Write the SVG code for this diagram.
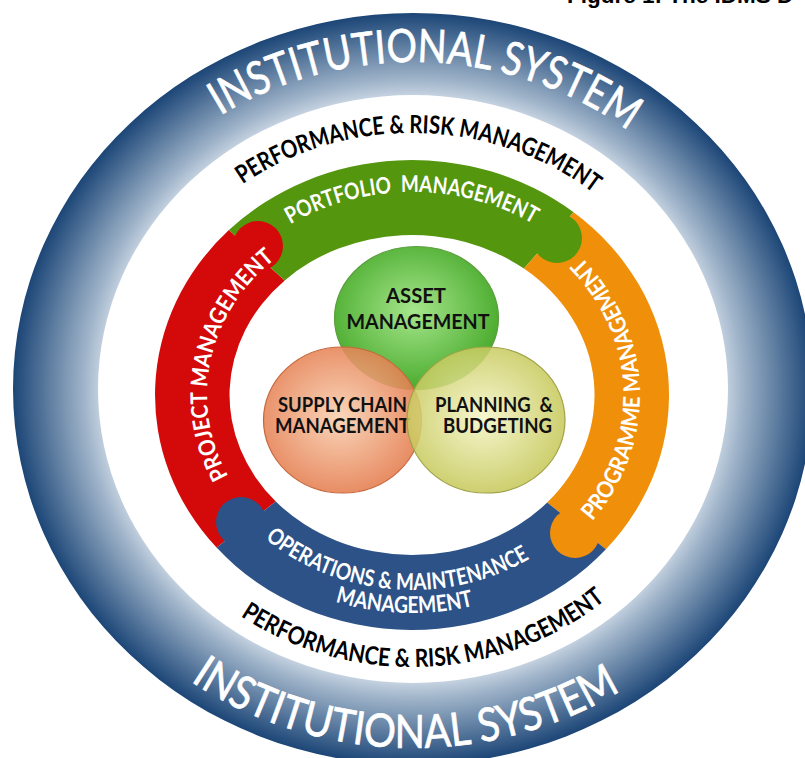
<svg xmlns="http://www.w3.org/2000/svg" width="805" height="758" viewBox="0 0 805 758">
<style>
.inst{font-family:Lato,"Liberation Sans",sans-serif;font-size:46px;fill:#ffffff;stroke:#ffffff;stroke-width:0.7px;text-anchor:middle}
.perf{font-family:Lato,"Liberation Sans",sans-serif;font-weight:bold;font-size:25px;fill:#000000;text-anchor:middle}
.band{font-family:Lato,"Liberation Sans",sans-serif;font-weight:bold;font-size:23px;fill:#ffffff;text-anchor:middle;white-space:pre}
.venn{font-family:Lato,"Liberation Sans",sans-serif;font-weight:bold;font-size:21px;fill:#111111;text-anchor:middle;white-space:pre}
.cap{font-family:"Liberation Sans",Arial,sans-serif;font-weight:bold;font-size:22.5px;fill:#000000}
</style>
<defs>
<radialGradient id="gRing" cx="50%" cy="50%" r="50%">
<stop offset="0.78" stop-color="#c6d3e1"/>
<stop offset="0.82" stop-color="#a2b6cb"/>
<stop offset="1" stop-color="#1c4677"/>
</radialGradient>
<radialGradient id="gAsset" cx="48%" cy="45%" r="58%">
<stop offset="0" stop-color="#a6e68c"/>
<stop offset="1" stop-color="#45a828"/>
</radialGradient>
<radialGradient id="gSupply" cx="48%" cy="48%" r="58%">
<stop offset="0" stop-color="#f9d0b0"/>
<stop offset="1" stop-color="#e27444"/>
</radialGradient>
<radialGradient id="gPlan" cx="48%" cy="48%" r="58%">
<stop offset="0" stop-color="#f4f5c6"/>
<stop offset="1" stop-color="#c0c24a"/>
</radialGradient>
<path id="pTopInst" d="M 62 389 A 351 327 0 0 1 764 389"/>
<path id="pBotInst" d="M 30 389 A 383 359 0 0 0 796 389"/>
<path id="pTopPerf" d="M 127 395 A 285 262 0 0 1 697 395"/>
<path id="pBotPerf" d="M 118 395 A 294 272 0 0 0 706 395"/>
<path id="pPort" d="M 187 395 A 225 203 0 0 1 637 395"/>
<path id="pProj" d="M 412 578 A 205 183 0 0 1 412 212"/>
<path id="pProg" d="M 412 601 A 228 206 0 0 0 412 189"/>
<path id="pOps1" d="M 195 395 A 217 195 0 0 0 629 395"/>
<path id="pOps2" d="M 172 395 A 240 218 0 0 0 652 395"/>
</defs>

<text class="cap" x="567" y="3">Figure 1: The IDMS D</text>

<g id="institutional-system">
<path d="M 13 389 A 400 376 0 1 1 813 389 A 400 376 0 1 1 13 389 Z M 98 389 A 315 294 0 1 0 728 389 A 315 294 0 1 0 98 389 Z" fill="url(#gRing)" fill-rule="evenodd"/>
<text class="inst"><textPath href="#pTopInst" startOffset="546" textLength="432" lengthAdjust="spacingAndGlyphs">INSTITUTIONAL SYSTEM</textPath></text>
<text class="inst"><textPath href="#pBotInst" startOffset="574" textLength="454" lengthAdjust="spacingAndGlyphs">INSTITUTIONAL SYSTEM</textPath></text>
</g>

<g id="performance-risk">
<text class="perf"><textPath href="#pTopPerf" startOffset="437" textLength="374" lengthAdjust="spacingAndGlyphs">PERFORMANCE &amp; RISK MANAGEMENT</textPath></text>
<text class="perf"><textPath href="#pBotPerf" startOffset="458" textLength="390" lengthAdjust="spacingAndGlyphs">PERFORMANCE &amp; RISK MANAGEMENT</textPath></text>
</g>

<g id="management-ring">
<path id="seg-project" d="M 216.6 547.6 A 257 235 0 0 1 228.9 230.1 L 284.7 280.4 A 182.5 160 0 0 0 275.8 501.5 Z" fill="#d40a0a"/>
<path id="seg-portfolio" d="M 228.9 230.1 A 257 235 0 0 1 573.6 212.3 L 523.9 268.6 A 182.5 160 0 0 0 284.7 280.4 Z" fill="#54960e"/>
<path id="seg-programme" d="M 573.6 212.3 A 257 235 0 0 1 605.9 549.3 L 547.2 502.5 A 182.5 160 0 0 0 523.9 268.6 Z" fill="#f0900a"/>
<path id="seg-operations" d="M 605.9 549.3 A 257 235 0 0 1 216.6 547.6 L 275.8 501.5 A 182.5 160 0 0 0 547.2 502.5 Z" fill="#2c5287"/>
<circle cx="258" cy="246" r="25" fill="#d40a0a"/>
<circle cx="557" cy="238" r="25" fill="#54960e"/>
<circle cx="575" cy="533" r="25" fill="#f0900a"/>
<circle cx="241" cy="522" r="25" fill="#2c5287"/>
</g>

<g id="portfolio-management">
<text class="band"><textPath href="#pPort" startOffset="336" textLength="254" lengthAdjust="spacingAndGlyphs">PORTFOLIO  MANAGEMENT</textPath></text>
</g>
<g id="project-management">
<text class="band"><textPath href="#pProj" startOffset="341" textLength="242" lengthAdjust="spacingAndGlyphs">PROJECT MANAGEMENT</textPath></text>
</g>
<g id="programme-management">
<text class="band"><textPath href="#pProg" startOffset="349" textLength="292" lengthAdjust="spacingAndGlyphs">PROGRAMME MANAGEMENT</textPath></text>
</g>
<g id="operations-maintenance">
<text class="band"><textPath href="#pOps1" startOffset="306" textLength="282" lengthAdjust="spacingAndGlyphs">OPERATIONS &amp; MAINTENANCE</textPath></text>
<text class="band"><textPath href="#pOps2" startOffset="352" textLength="140" lengthAdjust="spacingAndGlyphs">MANAGEMENT</textPath></text>
</g>

<g id="asset-management">
<ellipse cx="416.5" cy="318" rx="82" ry="71.5" fill="url(#gAsset)" stroke="#5b9e3e" stroke-width="1.2"/>
<text class="venn" x="416" y="303" textLength="60" lengthAdjust="spacingAndGlyphs">ASSET</text>
<text class="venn" x="418" y="329" textLength="143" lengthAdjust="spacingAndGlyphs">MANAGEMENT</text>
</g>
<g id="supply-chain-management">
<ellipse cx="342.5" cy="420" rx="79" ry="73" fill="url(#gSupply)" fill-opacity="0.88" stroke="#c8673c" stroke-width="1.2"/>
<text class="venn" x="342.5" y="412" textLength="129" lengthAdjust="spacingAndGlyphs">SUPPLY CHAIN</text>
<text class="venn" x="342.5" y="433" textLength="135" lengthAdjust="spacingAndGlyphs">MANAGEMENT</text>
</g>
<g id="planning-budgeting">
<ellipse cx="486" cy="420" rx="79" ry="73" fill="url(#gPlan)" fill-opacity="0.85" stroke="#9fa247" stroke-width="1.2"/>
<text class="venn" x="494" y="412" textLength="118" lengthAdjust="spacingAndGlyphs">PLANNING  &amp;</text>
<text class="venn" x="497.5" y="433" textLength="109" lengthAdjust="spacingAndGlyphs">BUDGETING</text>
</g>
</svg>
